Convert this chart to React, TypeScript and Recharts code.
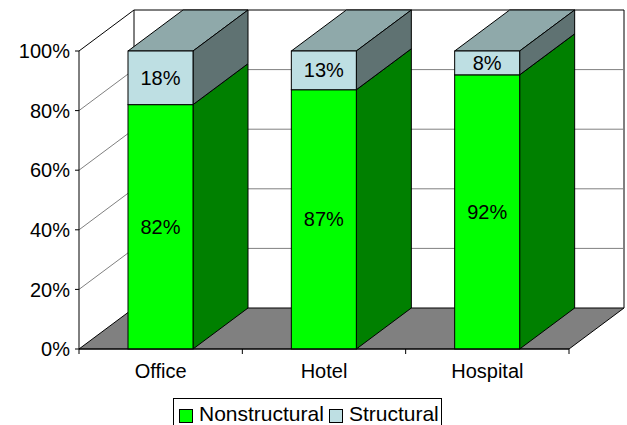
import React from 'react';
import { BarChart, Bar, XAxis, YAxis, CartesianGrid, Legend, LabelList } from 'recharts';

// Building types and the share of damage cost by component
const categories = ['Office', 'Hotel', 'Hospital'];
const nonstructural = [82, 87, 92];
const structural = [18, 13, 8];
const percentTicks = [0, 20, 40, 60, 80, 100];

const data = categories.map((name, i) => ({
  name,
  nonstructural: nonstructural[i],
  structural: structural[i],
}));

const FONT = '"Liberation Sans", Arial, Helvetica, sans-serif';
const FONT_SIZE = 20;
const LEGEND_FONT_SIZE = 21;

// Oblique depth of the 3-D box (pixels right / up)
const DX = 55;
const DY = 41;

const COLORS = {
  nonFront: '#00FF00',
  nonTop: '#00C000',
  nonSide: '#008000',
  strFront: '#BEDFE3',
  strTop: '#8FA9AA',
  strSide: '#5F7272',
  floor: '#808080',
  grid: '#808080',
};

type Faces = { front: string; top: string; side: string };

// A bar segment drawn as an oblique prism: front, top and right-side faces
const prism = (faces: Faces) => (props: any) => {
  const { x, y, width, height } = props;
  if (width == null || height == null) return <g />;
  const r = x + width;
  const b = y + height;
  return (
    <g>
      <polygon
        points={`${x},${y} ${x + DX},${y - DY} ${r + DX},${y - DY} ${r},${y}`}
        fill={faces.top}
        stroke="#000"
        strokeWidth={1}
        strokeLinejoin="round"
      />
      <polygon
        points={`${r},${y} ${r + DX},${y - DY} ${r + DX},${b - DY} ${r},${b}`}
        fill={faces.side}
        stroke="#000"
        strokeWidth={1}
        strokeLinejoin="round"
      />
      <rect x={x} y={y} width={width} height={height} fill={faces.front} stroke="#000" strokeWidth={1} />
    </g>
  );
};

// Each horizontal grid line becomes a diagonal on the side wall plus a line on the back wall.
// The floor and the back-wall frame are drawn with the bottom and top lines.
const wallLine = (p: any) => {
  const { x1, y1, x2, y, height, key } = p;
  const bottom = y + height;
  const isFloor = Math.abs(y1 - bottom) < 0.5;
  const isTop = Math.abs(y1 - y) < 0.5;
  const bx1 = x1 + DX;
  const bx2 = x2 + DX;
  const by = y1 - DY;
  if (isFloor) {
    return (
      <g key={key}>
        <polygon
          points={`${x1},${y1} ${bx1},${by} ${bx2},${by} ${x2},${y1}`}
          fill={COLORS.floor}
          stroke="#000"
          strokeWidth={1}
        />
        <line x1={bx1} y1={y - DY} x2={bx1} y2={by} stroke="#000" strokeWidth={1} />
        <line x1={bx2} y1={y - DY} x2={bx2} y2={by} stroke="#000" strokeWidth={1} />
      </g>
    );
  }
  const color = isTop ? '#000' : COLORS.grid;
  return (
    <g key={key}>
      <line x1={x1} y1={y1} x2={bx1} y2={by} stroke={color} strokeWidth={1} />
      <line x1={bx1} y1={by} x2={bx2} y2={by} stroke={color} strokeWidth={1} />
    </g>
  );
};

// Category label with tick marks on the band boundaries
const CategoryTick = (p: any) => {
  const { x, y, payload, width, visibleTicksCount, index } = p;
  const band = width && visibleTicksCount ? width / visibleTicksCount : 0;
  const left = x - band / 2;
  const right = x + band / 2;
  return (
    <g>
      <line x1={left} y1={y} x2={left} y2={y + 5} stroke="#000" strokeWidth={1} />
      {index === visibleTicksCount - 1 && (
        <line x1={right} y1={y} x2={right} y2={y + 5} stroke="#000" strokeWidth={1} />
      )}
      <text x={x} y={y + 29} textAnchor="middle" fill="#000" fontFamily={FONT} fontSize={FONT_SIZE}>
        {payload.value}
      </text>
    </g>
  );
};

const legendItems = [
  { label: 'Nonstructural', color: COLORS.nonFront },
  { label: 'Structural', color: COLORS.strFront },
];

const LegendBox = () => (
  <div
    style={{
      boxSizing: 'border-box',
      width: 269,
      height: 30,
      border: '1px solid #000',
      display: 'flex',
      alignItems: 'flex-start',
      paddingLeft: 5,
      paddingTop: 5.5,
      fontFamily: FONT,
      fontSize: LEGEND_FONT_SIZE,
      color: '#000',
      lineHeight: '17px',
      whiteSpace: 'nowrap',
    }}
  >
    {legendItems.map((item) => (
      <div key={item.label} style={{ display: 'flex', alignItems: 'flex-start', marginRight: 5 }}>
        <span
          style={{
            display: 'inline-block',
            boxSizing: 'border-box',
            width: 14,
            height: 14,
            marginTop: 4,
            background: item.color,
            border: '1px solid #000',
            marginRight: 6,
          }}
        />
        <span>{item.label}</span>
      </div>
    ))}
  </div>
);

export default function App() {
  return (
    <div style={{ position: 'absolute', left: 0, top: 0, background: '#fff' }}>
      <BarChart
        width={627}
        height={425}
        data={data}
        margin={{ top: 51, right: 58, left: 0, bottom: 0 }}
        barCategoryGap="30%"
      >
        <CartesianGrid vertical={false} horizontal={wallLine} />
        <XAxis
          dataKey="name"
          height={46}
          axisLine={{ stroke: '#000' }}
          tickLine={false}
          tickSize={0}
          tickMargin={0}
          tick={<CategoryTick />}
          interval={0}
        />
        <YAxis
          width={79}
          domain={[0, 100]}
          ticks={percentTicks}
          tickFormatter={(v: number) => `${v}%`}
          axisLine={{ stroke: '#000' }}
          tickLine={{ stroke: '#000' }}
          tickSize={4}
          tickMargin={5}
          tick={{ fill: '#000', fontFamily: FONT, fontSize: FONT_SIZE }}
        />
        <Legend
          verticalAlign="bottom"
          wrapperStyle={{ left: 173, top: 398, width: 269, height: 30 }}
          content={() => <LegendBox />}
        />
        <Bar
          dataKey="nonstructural"
          name="Nonstructural"
          stackId="a"
          fill={COLORS.nonFront}
          isAnimationActive={false}
          shape={prism({ front: COLORS.nonFront, top: COLORS.nonTop, side: COLORS.nonSide })}
        >
          <LabelList
            dataKey="nonstructural"
            position="center"
            formatter={(v: any) => `${v}%`}
            fill="#000"
            fontFamily={FONT}
            fontSize={FONT_SIZE}
          />
        </Bar>
        <Bar
          dataKey="structural"
          name="Structural"
          stackId="a"
          fill={COLORS.strFront}
          isAnimationActive={false}
          shape={prism({ front: COLORS.strFront, top: COLORS.strTop, side: COLORS.strSide })}
        >
          <LabelList
            dataKey="structural"
            position="center"
            formatter={(v: any) => `${v}%`}
            fill="#000"
            fontFamily={FONT}
            fontSize={FONT_SIZE}
          />
        </Bar>
      </BarChart>
    </div>
  );
}
